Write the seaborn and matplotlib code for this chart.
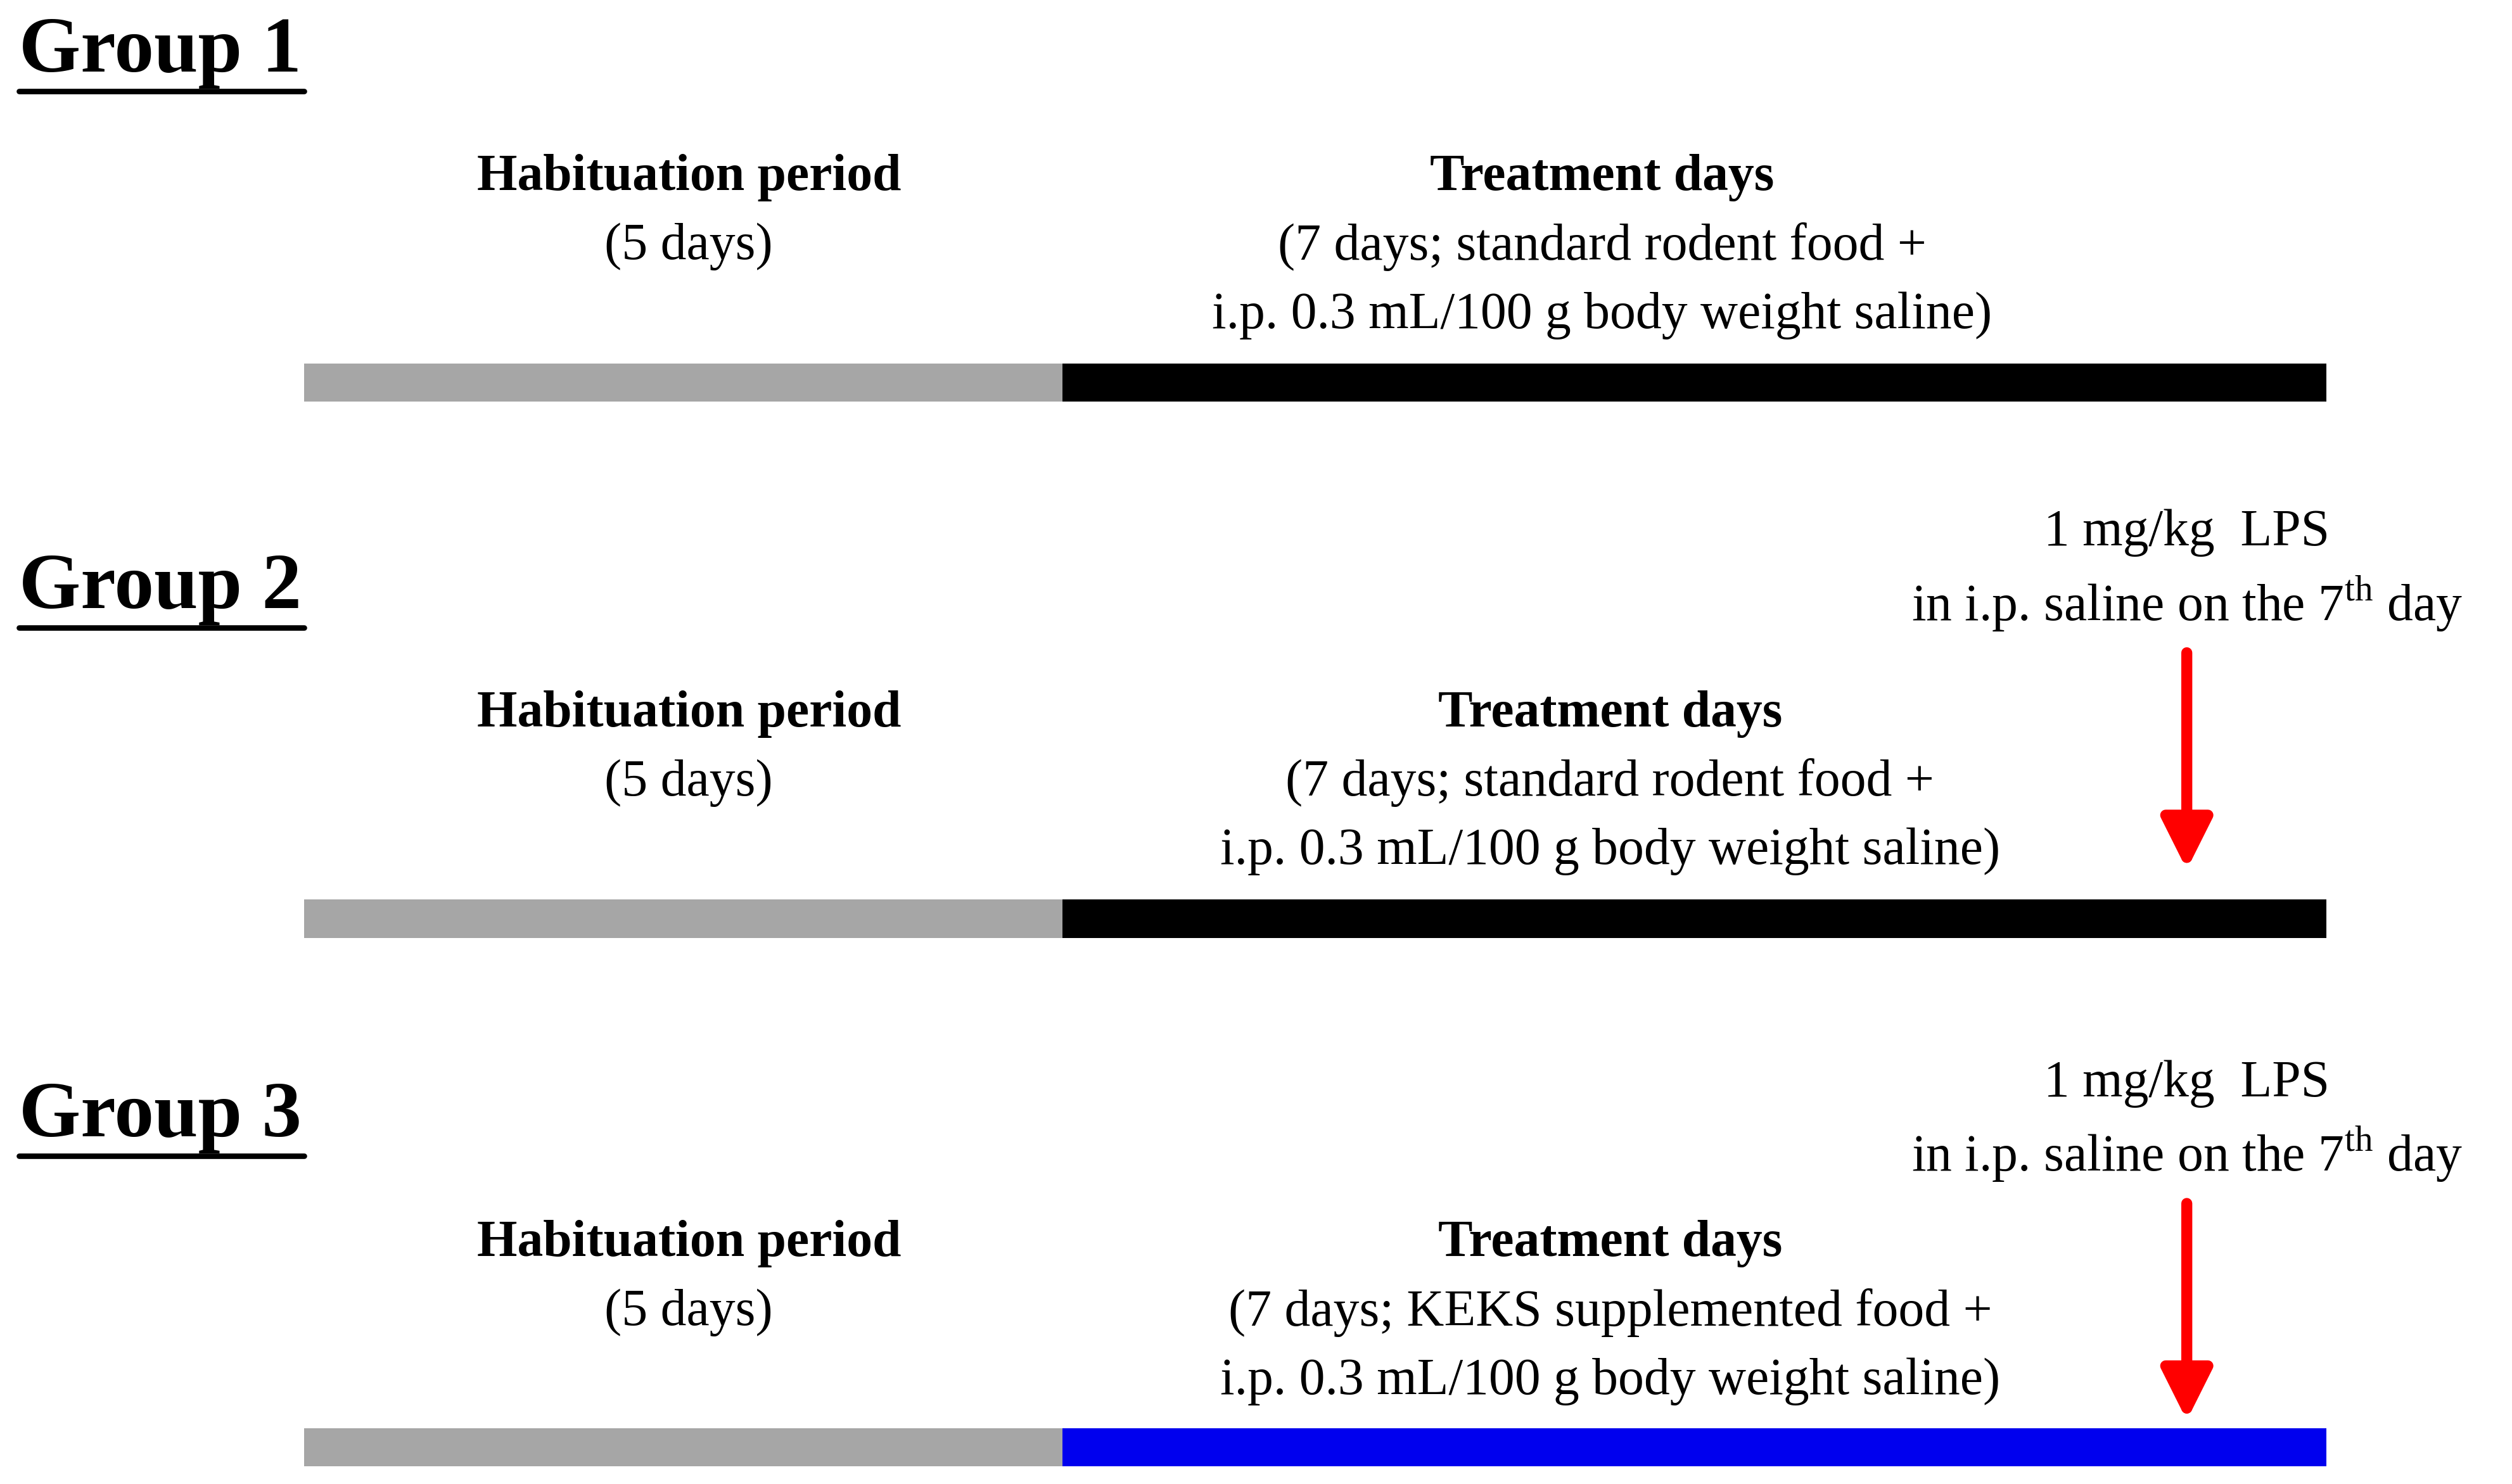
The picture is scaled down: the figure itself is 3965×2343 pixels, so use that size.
import matplotlib.pyplot as plt
import seaborn as sns

groups = ["Group 1", "Group 2", "Group 3"]
habituation_days = [5, 5, 5]
treatment_days = [7, 7, 7]
treatment_colors = ["black", "black", "#0000ee"]
food = ["standard rodent food", "standard rodent food", "KEKS supplemented food"]
has_lps = [False, True, True]

sns.set_theme(style="white")
plt.rcParams['font.family'] = ['Liberation Serif', 'DejaVu Serif']
plt.rcParams['text.color'] = 'black'
plt.rcParams['mathtext.fontset'] = 'custom'
plt.rcParams['mathtext.rm'] = 'Liberation Serif'

W, H = 1568, 927
fig = plt.figure(figsize=(15.86, 9.372), dpi=250)
ax = fig.add_axes([0, 0, 1, 1])
ax.set_xlim(0, W)
ax.set_ylim(H, 0)
ax.axis("off")

x0 = 190
px_day_hab = (663 - 190) / 5
px_day_treat = (1452 - 663) / 7
bar_y = [239, 574, 904]
title_y = [33, 368, 698]
text_y = [111, 446, 777]
tx = [1000, 1005, 1005]
lps_y = [None, 333, 677]
fs = 23.5

for i, g in enumerate(groups):
    hw = habituation_days[i] * px_day_hab
    tw = treatment_days[i] * px_day_treat
    ax.barh(bar_y[i], hw, left=x0, height=24, color="#a6a6a6", linewidth=0)
    ax.barh(bar_y[i], tw, left=x0 + hw, height=24, color=treatment_colors[i], linewidth=0)
    ax.text(12, title_y[i], g, fontsize=36, fontweight="bold", va="center", ha="left")
    ax.plot([12, 190], [title_y[i] + 24, title_y[i] + 24], color="black", lw=2.5)
    ax.text(430, text_y[i], "Habituation period", fontsize=fs, fontweight="bold", ha="center", va="center")
    ax.text(430, text_y[i] + 43, f"({habituation_days[i]} days)", fontsize=fs, ha="center", va="center")
    ax.text(tx[i], text_y[i], "Treatment days", fontsize=fs, fontweight="bold", ha="center", va="center")
    ax.text(tx[i], text_y[i] + 43, f"({treatment_days[i]} days; {food[i]} +", fontsize=fs, ha="center", va="center")
    ax.text(tx[i], text_y[i] + 86, "i.p. 0.3 mL/100 g body weight saline)", fontsize=fs, ha="center", va="center")
    if has_lps[i]:
        ax.text(1365, lps_y[i], "1 mg/kg  LPS", fontsize=fs, ha="center", va="center")
        ax.text(1365, lps_y[i] + 44, r"in i.p. saline on the 7$^{\mathrm{th}}$ day", fontsize=fs, ha="center", va="center")
        ax.annotate("", xy=(1365, lps_y[i] + 213), xytext=(1365, lps_y[i] + 72),
                    arrowprops=dict(arrowstyle="-|>,head_width=0.8,head_length=1.6", color="red", lw=5))

fig.savefig("out.png", facecolor="white")
